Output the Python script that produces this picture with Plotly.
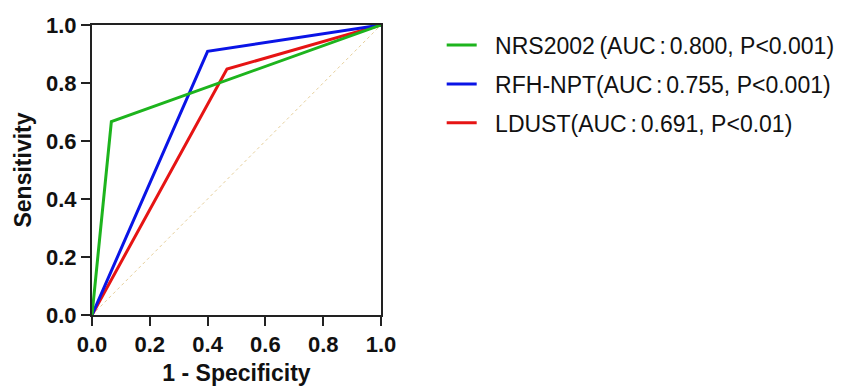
import plotly.graph_objects as go

# Data
names = ["NRS2002\u2009(AUC\u2006:\u20060.800, P<0.001)",
         "RFH-NPT(AUC\u2006:\u20060.755, P<0.001)",
         "LDUST(AUC\u2006:\u20060.691, P<0.01)"]
colors = ["#1db41d", "#0a14e6", "#e61414"]
fpr_nrs = [0.0, 0.067, 1.0]
tpr_nrs = [0.0, 0.667, 1.0]
fpr_rfh = [0.0, 0.400, 1.0]
tpr_rfh = [0.0, 0.909, 1.0]
fpr_ldust = [0.0, 0.467, 1.0]
tpr_ldust = [0.0, 0.848, 1.0]
ref_x = [0.0, 1.0]
ref_y = [0.0, 1.0]
tick_vals = [0.0, 0.2, 0.4, 0.6, 0.8, 1.0]
tick_text = ["0.0", "0.2", "0.4", "0.6", "0.8", "1.0"]

fig = go.Figure()
fig.add_trace(go.Scatter(x=ref_x, y=ref_y, mode="lines", showlegend=False,
                         line=dict(color="#e6cf9a", width=1, dash="dot"), hoverinfo="skip"))
series = [(fpr_ldust, tpr_ldust, 2), (fpr_rfh, tpr_rfh, 1), (fpr_nrs, tpr_nrs, 0)]
for fx, ty, i in series:
    fig.add_trace(go.Scatter(x=fx, y=ty, mode="lines", name="\u2002\u200a" + names[i],
                             legendrank=i + 1, legendgroup=f"g{i}",
                             line=dict(color=colors[i], width=3)))

font_fam = "Liberation Sans, Arial, sans-serif"
axis_common = dict(
    range=[0, 1], tickvals=tick_vals, ticktext=tick_text, automargin=False,
    showgrid=False, zeroline=False, showline=True, linecolor="#222", linewidth=2,
    mirror=True, ticks="outside", ticklen=9, tickwidth=2, tickcolor="#222",
    tickfont=dict(family=font_fam, size=22, color="#111", weight="bold"),
)
fig.update_layout(
    width=845, height=388,
    margin=dict(l=84, r=472, t=17, b=81),
    plot_bgcolor="white", paper_bgcolor="white",
    xaxis=dict(**axis_common,
               title=dict(text="1 - Specificity", standoff=8,
                          font=dict(family=font_fam, size=23, color="#111", weight="bold"))),
    yaxis=dict(**axis_common,
               title=dict(text="Sensitivity", standoff=8,
                          font=dict(family=font_fam, size=23, color="#111", weight="bold"))),
    legend=dict(x=1.21, y=1.005, xanchor="left", yanchor="top",
                font=dict(family=font_fam, size=23, color="#111"),
                tracegroupgap=6, bgcolor="rgba(0,0,0,0)"),
)
fig.write_html("out.html")
